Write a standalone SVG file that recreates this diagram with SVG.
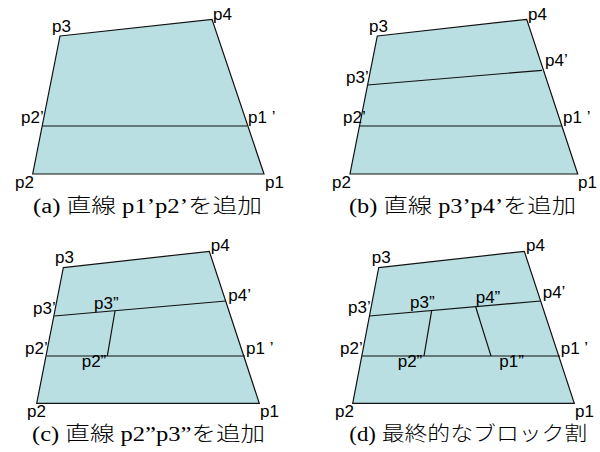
<svg xmlns="http://www.w3.org/2000/svg" width="600" height="452" viewBox="0 0 600 452">
<style>
.q{fill:#b9dfe2;stroke:#111;stroke-width:1.2;stroke-linejoin:miter}
.l{fill:none;stroke:#111;stroke-width:1.2}
.t{font-family:"Liberation Sans",Arial,sans-serif;font-size:17px;fill:#000}
.c{font-family:"Liberation Serif","Noto Sans CJK JP",serif;font-size:20px;font-weight:300;fill:#000}
</style>
<rect width="600" height="452" fill="#fff"/>
<g id="panel-a">
<polygon class="q" points="60,36 212,19.3 264,174 32.7,174"/>
<g id="a-lines"><line class="l" x1="42.3" y1="126" x2="247" y2="126"/></g>
<text class="t" x="52" y="32">p3</text>
<text class="t" x="213" y="20">p4</text>
<text class="t" x="21" y="123">p2’</text>
<text class="t" x="248" y="123">p1 ’</text>
<text class="t" x="15" y="188">p2</text>
<text class="t" x="265" y="188">p1</text>
<text class="c" x="33" y="213" textLength="229" lengthAdjust="spacingAndGlyphs">(a) 直線 p1’p2’を追加</text>
</g>
<g id="panel-b">
<polygon class="q" points="377.3,36 526.7,19.3 577.7,174 350,174"/>
<g id="b-lines">
<line class="l" x1="367.7" y1="85" x2="542" y2="70.3"/>
<line class="l" x1="359.3" y1="126" x2="561.7" y2="126"/>
</g>
<text class="t" x="369" y="32">p3</text>
<text class="t" x="528" y="20">p4</text>
<text class="t" x="545" y="66">p4’</text>
<text class="t" x="346" y="83">p3’</text>
<text class="t" x="343" y="123">p2’</text>
<text class="t" x="563" y="123">p1 ’</text>
<text class="t" x="332" y="188">p2</text>
<text class="t" x="578" y="188">p1</text>
<text class="c" x="349" y="213" textLength="227" lengthAdjust="spacingAndGlyphs">(b) 直線 p3’p4’を追加</text>
</g>
<g id="panel-c">
<polygon class="q" points="63.3,267.7 209.3,251.3 259.3,403.3 36.7,403.3"/>
<g id="c-lines">
<line class="l" x1="54.3" y1="316" x2="226" y2="301"/>
<line class="l" x1="46.7" y1="356" x2="245" y2="356"/>
<line class="l" x1="115" y1="311" x2="107.3" y2="356"/>
</g>
<text class="t" x="55" y="262.7">p3</text>
<text class="t" x="210.7" y="251">p4</text>
<text class="t" x="228.3" y="301">p4’</text>
<text class="t" x="33" y="314">p3’</text>
<text class="t" x="94" y="308.7">p3”</text>
<text class="t" x="25" y="354">p2’</text>
<text class="t" x="246" y="354">p1 ’</text>
<text class="t" x="81.7" y="367">p2”</text>
<text class="t" x="27" y="416.5">p2</text>
<text class="t" x="260" y="416.5">p1</text>
<text class="c" x="32" y="441" textLength="233" lengthAdjust="spacingAndGlyphs">(c) 直線 p2”p3”を追加</text>
</g>
<g id="panel-d">
<polygon class="q" points="378.7,267.7 524.3,251.3 574.3,403.3 352.7,403.3"/>
<g id="d-lines">
<line class="l" x1="369.3" y1="316" x2="540.7" y2="301"/>
<line class="l" x1="362" y1="356" x2="560" y2="356"/>
<line class="l" x1="431.7" y1="310.3" x2="424" y2="356"/>
<line class="l" x1="475.7" y1="307" x2="491" y2="356"/>
</g>
<text class="t" x="371.7" y="262.7">p3</text>
<text class="t" x="526" y="251">p4</text>
<text class="t" x="542.7" y="298">p4’</text>
<text class="t" x="348" y="313.3">p3’</text>
<text class="t" x="410" y="307.7">p3”</text>
<text class="t" x="475.7" y="303.3">p4”</text>
<text class="t" x="340" y="354.3">p2’</text>
<text class="t" x="560.7" y="354.3">p1 ’</text>
<text class="t" x="397.7" y="367">p2”</text>
<text class="t" x="499.3" y="367">p1”</text>
<text class="t" x="335" y="416.5">p2</text>
<text class="t" x="575" y="416.5">p1</text>
<text class="c" x="349.3" y="441" textLength="238" lengthAdjust="spacingAndGlyphs">(d) 最終的なブロック割</text>
</g>
</svg>
